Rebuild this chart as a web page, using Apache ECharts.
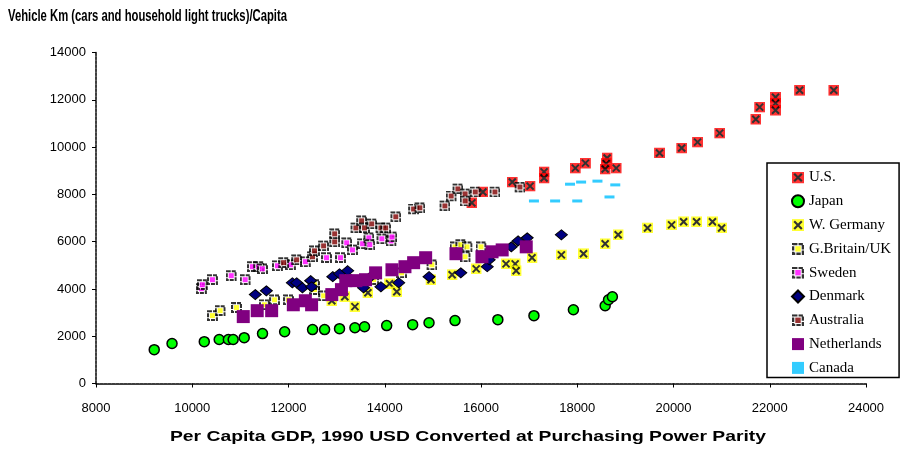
<!DOCTYPE html>
<html>
<head>
<meta charset="utf-8">
<title>Vehicle Km per Capita</title>
<script src="https://cdn.jsdelivr.net/npm/echarts@6/dist/echarts.min.js"></script>
<style>
  html, body { margin: 0; padding: 0; background: #fff; }
  #chart { width: 909px; height: 451px; }
</style>
</head>
<body>
<div id="chart"></div>
<script>
// 数据: [人均GDP, 人均车辆公里]
var usData = [[15810,7640],[16040,8100],[16650,8520],[17020,8350],[17310,8950],[17310,8690],[17960,9110],[18170,9320],[18620,9540],[18600,9300],[18580,9070],[18810,9110],[19710,9750],[20170,9960],[20500,10210],[20960,10590],[21710,11180],[21790,11690],[22120,12110],[22120,11860],[22120,11560],[22620,12400],[23330,12400]];
var japanData = [[9210,1430],[9580,1690],[10250,1770],[10560,1860],[10750,1860],[10850,1860],[11080,1940],[11460,2110],[11920,2190],[12500,2280],[12750,2280],[13060,2320],[13380,2360],[13580,2400],[14040,2450],[14580,2490],[14920,2570],[15460,2660],[16350,2700],[17100,2870],[17920,3120],[18580,3290],[18650,3540],[18730,3670]];
var germanyData = [[12900,3500],[13170,3670],[13380,3250],[13650,3840],[14100,4220],[14250,3880],[14960,4390],[15400,4600],[15900,4850],[16520,5060],[16710,5060],[16730,4770],[17060,5320],[17670,5440],[18130,5490],[18580,5910],[18850,6290],[19460,6580],[19960,6710],[20210,6840],[20480,6840],[20810,6840],[21000,6580]];
var ukData = [[10420,2870],[10580,3080],[10920,3210],[11500,3330],[11710,3540],[12000,3540],[12540,3970],[12540,4180],[12730,3710],[13770,4390],[14350,4680],[14980,5020],[15460,5780],[15580,5870],[15710,5780],[15670,5360],[16000,5780]];
var swedenData = [[10190,4010],[10210,4180],[10420,4390],[10810,4560],[11100,4390],[11250,4940],[11380,4940],[11460,4850],[11770,4980],[12040,5020],[12350,5150],[12790,5320],[13080,5320],[13210,5950],[13330,5650],[13540,5910],[13670,6160],[13690,5870],[13940,6120],[14130,6030],[14150,6200]];
var denmarkData = [[11310,3760],[11540,3920],[12080,4260],[12170,4260],[12290,4050],[12460,4350],[12480,4090],[12920,4520],[13060,4640],[13230,4770],[13560,4050],[13710,4520],[13920,4090],[14290,4260],[14920,4520],[15580,4680],[16130,4940],[16170,5230],[16630,5780],[16770,6030],[16960,6160],[17670,6290]];
var australiaData = [[11900,5110],[12170,5230],[12500,5360],[12540,5610],[12730,5820],[12960,5990],[12960,6330],[13400,6580],[13520,6880],[13580,6580],[13730,6750],[13920,6580],[14020,6580],[14230,7050],[14600,7380],[14730,7430],[15250,7510],[15380,7930],[15520,8230],[15670,8020],[15670,7720],[15880,8100],[16290,8100],[16810,8310]];
var netherlandsData = [[11060,2830],[11350,3080],[11650,3080],[12100,3330],[12350,3500],[12480,3330],[12900,3760],[13100,3970],[13190,4350],[13400,4350],[13600,4390],[13810,4680],[14150,4810],[14420,4940],[14600,5110],[14850,5320],[15480,5490],[16020,5360],[16230,5570],[16440,5650],[16940,5780]];
var canadaData = [[17100,7720],[17540,7720],[18000,7720],[17850,8430],[18080,8520],[18420,8560],[18790,8400],[18670,7890]];

var seriesNames = ['U.S.', 'Japan', 'W. Germany', 'G.Britain/UK', 'Sweden', 'Denmark', 'Australia', 'Netherlands', 'Canada'];
var xTicks = { min: 8000, max: 24000, step: 2000 };
var yTicks = { min: 0, max: 14000, step: 2000 };

var titleText = 'Vehicle Km (cars and household light trucks)/Capita';
var xTitleText = 'Per Capita GDP, 1990 USD Converted at Purchasing Power Parity';

// 用内联SVG画Excel风格的标记
function svgSymbol(inner, w, h) {
  var svg = "<svg xmlns='http://www.w3.org/2000/svg' width='" + w + "' height='" + h +
    "' viewBox='0 0 " + w + " " + h + "'>" + inner + "</svg>";
  return 'image://data:image/svg+xml;charset=utf-8,' + encodeURIComponent(svg);
}
function crossBox(fill) {
  return svgSymbol("<rect x='0' y='0' width='11' height='11' fill='" + fill + "'/>" +
    "<path d='M2 2L9 9M9 2L2 9' stroke='#000' stroke-width='2'/>", 11, 11);
}
function frameBox(fill) {
  return svgSymbol("<rect x='1' y='1' width='9' height='9' fill='#fff' stroke='#000' stroke-width='2.2' stroke-dasharray='4,1'/>" +
    "<rect x='3' y='3' width='5' height='5' fill='" + fill + "'/>", 11, 11);
}

// 标题文字在原图里被横向拉伸/压缩过，这里量一下宽度再缩放
var measureCtx = document.createElement('canvas').getContext('2d');
function textScale(text, font, targetWidth) {
  measureCtx.font = font;
  return targetWidth / measureCtx.measureText(text).width;
}
var titleFont = "bold 16px 'Liberation Sans', Arial, sans-serif";
var xTitleFont = "bold 15px 'Liberation Sans', Arial, sans-serif";

var chart = echarts.init(document.getElementById('chart'));

var option = {
  animation: false,
  backgroundColor: '#fff',
  graphic: [
    {
      type: 'text',
      x: 8,
      y: 17,
      scaleX: textScale(titleText, titleFont, 279),
      style: { text: titleText, font: titleFont, fill: '#000', verticalAlign: 'middle' }
    },
    {
      type: 'text',
      x: 468,
      y: 437,
      scaleX: textScale(xTitleText, xTitleFont, 596),
      style: { text: xTitleText, font: xTitleFont, fill: '#000', align: 'center', verticalAlign: 'middle' }
    }
  ],
  legend: {
    orient: 'vertical',
    left: 767,
    top: 163,
    padding: [7, 8, 2, 24],
    itemGap: 8.8,
    itemWidth: 12,
    itemHeight: 12,
    borderColor: '#000',
    borderWidth: 1.5,
    selectedMode: false,
    data: seriesNames,
    textStyle: {
      fontFamily: "'Liberation Serif', 'DejaVu Serif', serif",
      fontSize: 15,
      color: '#000'
    }
  },
  grid: {
    left: 96,
    right: 43,
    top: 52.5,
    bottom: 67.5
  },
  xAxis: {
    type: 'value',
    min: xTicks.min,
    max: xTicks.max,
    interval: xTicks.step,
    splitLine: { show: false },
    axisLine: { lineStyle: { color: '#000', width: 1.5, type: [3, 1] } },
    axisTick: { length: 4, lineStyle: { color: '#000' } },
    axisLabel: {
      margin: 18, color: '#000', fontSize: 13, fontFamily: "'Liberation Sans', Arial",
      formatter: function (v) { return String(v); }
    }
  },
  yAxis: {
    type: 'value',
    min: yTicks.min,
    max: yTicks.max,
    interval: yTicks.step,
    splitLine: { show: false },
    axisLine: { show: true, lineStyle: { color: '#000', width: 1.5, type: [3, 1] } },
    axisTick: { show: true, length: 4, lineStyle: { color: '#000' } },
    axisLabel: {
      margin: 10, color: '#000', fontSize: 13, fontFamily: "'Liberation Sans', Arial",
      formatter: function (v) { return String(v); }
    }
  },
  series: [
    { name: 'U.S.', type: 'scatter', data: usData, symbol: crossBox('#ff0000'), symbolSize: 11 },
    { name: 'Japan', type: 'scatter', data: japanData, symbol: 'circle', symbolSize: 10,
      itemStyle: { color: '#00ff00', borderColor: '#000', borderWidth: 1.5, opacity: 1 } },
    { name: 'W. Germany', type: 'scatter', data: germanyData, symbol: crossBox('#ffff00'), symbolSize: 11 },
    { name: 'G.Britain/UK', type: 'scatter', data: ukData, symbol: frameBox('#ffff00'), symbolSize: 11 },
    { name: 'Sweden', type: 'scatter', data: swedenData, symbol: frameBox('#ff00ff'), symbolSize: 11 },
    { name: 'Denmark', type: 'scatter', data: denmarkData, symbol: 'diamond', symbolSize: [12, 10],
      itemStyle: { color: '#000080', borderColor: '#000', borderWidth: 1, opacity: 1 } },
    { name: 'Australia', type: 'scatter', data: australiaData, symbol: frameBox('#800000'), symbolSize: 11 },
    { name: 'Netherlands', type: 'scatter', data: netherlandsData, symbol: 'rect', symbolSize: 13,
      itemStyle: { color: '#800080', opacity: 1 } },
    { name: 'Canada', type: 'scatter', data: canadaData, symbol: 'rect', symbolSize: [10, 3],
      itemStyle: { color: '#33ccff', opacity: 1 } }
  ]
};

chart.setOption(option);
</script>
</body>
</html>
